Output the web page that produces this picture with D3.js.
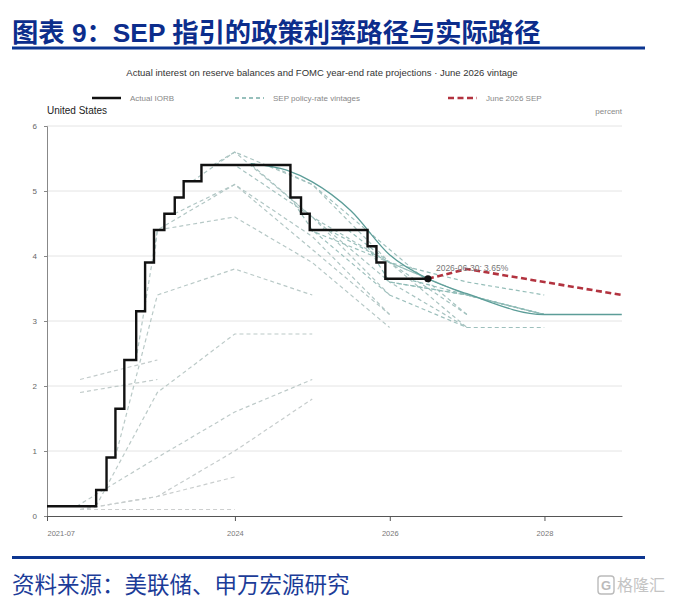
<!DOCTYPE html>
<html>
<head>
<meta charset="utf-8">
<script src="https://cdn.jsdelivr.net/npm/d3@7"></script>
<style>
    body { margin: 0; background: #fff; }
    svg { display: block; }
</style>
</head>
<body>
<svg id="chart" width="674" height="605"></svg>
<script>
// ---- data ----
const titleText = "图表 9：SEP 指引的政策利率路径与实际路径";
const subtitleText = "Actual interest on reserve balances and FOMC year-end rate projections · June 2026 vintage";
const sourceText = "资料来源：美联储、申万宏源研究";

const xStart = "2021-07-28";
const xEnd = "2029-01-01";
const xTicks = ["2021-07-28", "2024-01-01", "2026-01-01", "2028-01-01"];
const yTicks = [0, 1, 2, 3, 4, 5, 6];

// actual IORB: date of change, new level (step-after)
const iorbDates = [
    "2021-07-28", "2022-03-17", "2022-05-05", "2022-06-16", "2022-07-28",
    "2022-09-22", "2022-11-03", "2022-12-15", "2023-02-02", "2023-03-23",
    "2023-05-04", "2023-07-27", "2024-09-19", "2024-11-08", "2024-12-19",
    "2025-09-18", "2025-10-30", "2025-12-11", "2026-06-30",
];
const iorbValues = [
    0.15, 0.40, 0.90, 1.65, 2.40,
    3.15, 3.90, 4.40, 4.65, 4.90,
    5.15, 5.40, 4.90, 4.65, 4.40,
    4.15, 3.90, 3.65, 3.65,
];

// SEP vintages: [date, rate] pairs, oldest first
const vintages = [
    [["2021-12-31", 0.1], ["2022-12-31", 0.1], ["2023-12-31", 0.1]],
    [["2021-12-31", 0.1], ["2022-12-31", 0.3], ["2023-12-31", 0.6]],
    [["2021-12-31", 0.1], ["2022-12-31", 0.3], ["2023-12-31", 1.0], ["2024-12-31", 1.8]],
    [["2021-12-31", 2.1], ["2022-12-31", 2.4]],
    [["2021-12-31", 1.9], ["2022-12-31", 2.1]],
    [["2021-12-15", 0.15], ["2022-12-31", 0.9], ["2023-12-31", 1.6], ["2024-12-31", 2.1]],
    [["2022-03-16", 0.15], ["2022-12-31", 1.9], ["2023-12-31", 2.8], ["2024-12-31", 2.8]],
    [["2022-06-15", 0.9], ["2022-12-31", 3.4], ["2023-12-31", 3.8], ["2024-12-31", 3.4]],
    [["2022-09-21", 2.4], ["2022-12-31", 4.4], ["2023-12-31", 4.6], ["2024-12-31", 3.9], ["2025-12-31", 2.9]],
    [["2022-12-14", 3.9], ["2022-12-31", 4.4], ["2023-12-31", 5.1], ["2024-12-31", 4.1], ["2025-12-31", 3.1]],
    [["2023-03-22", 4.65], ["2023-12-31", 5.1], ["2024-12-31", 4.3], ["2025-12-31", 3.1]],
    [["2023-06-14", 5.15], ["2023-12-31", 5.6], ["2024-12-31", 4.6], ["2025-12-31", 3.4]],
    [["2023-09-20", 5.4], ["2023-12-31", 5.6], ["2024-12-31", 5.1], ["2025-12-31", 3.9], ["2026-12-31", 2.9]],
    [["2023-12-13", 5.4], ["2023-12-31", 5.4], ["2024-12-31", 4.6], ["2025-12-31", 3.6], ["2026-12-31", 2.9]],
    [["2024-03-20", 5.4], ["2024-12-31", 4.6], ["2025-12-31", 3.9], ["2026-12-31", 3.1]],
    [["2024-06-12", 5.4], ["2024-12-31", 5.1], ["2025-12-31", 4.1], ["2026-12-31", 3.1]],
    [["2024-09-18", 4.9], ["2024-12-31", 4.4], ["2025-12-31", 3.4], ["2026-12-31", 2.9], ["2027-12-31", 2.9]],
    [["2024-12-18", 4.4], ["2025-12-31", 3.9], ["2026-12-31", 3.4], ["2027-12-31", 3.1]],
    [["2025-03-19", 4.4], ["2025-12-31", 3.9], ["2026-12-31", 3.4], ["2027-12-31", 3.1]],
    [["2025-06-18", 4.4], ["2025-12-31", 3.9], ["2026-12-31", 3.6], ["2027-12-31", 3.4]],
    [["2025-09-17", 4.15], ["2025-12-31", 3.6], ["2026-12-31", 3.4], ["2027-12-31", 3.1]],
    [["2025-12-10", 3.65], ["2025-12-31", 3.6], ["2026-12-31", 3.4], ["2027-12-31", 3.1]],
    [["2026-03-18", 3.65], ["2026-12-31", 3.4], ["2027-12-31", 3.1]],
];

// the smooth solid teal path
const curveDates = ["2024-03-15", "2024-09-01", "2024-12-31", "2025-06-30", "2025-12-31", "2026-06-30", "2026-12-31", "2027-12-31", "2028-12-31"];
const curveValues = [5.42, 5.32, 5.14, 4.7, 4.02, 3.65, 3.42, 3.1, 3.1];

// June 2026 SEP
const sepDates = ["2026-06-30", "2026-12-31", "2027-12-31", "2028-12-31"];
const sepValues = [3.65, 3.8, 3.6, 3.4];

const lastLabel = "2026-06-30: 3.65%";

// ---- drawing ----
const parse = d3.utcParse("%Y-%m-%d");
const svg = d3.select("#chart");
const chartFont = "'Liberation Sans', Arial, sans-serif";

const plot = { left: 47, right: 622, top: 126, bottom: 516 };

const x = d3.scaleUtc()
    .domain([parse(xStart), parse(xEnd)])
    .range([plot.left, plot.right]);

const y = d3.scaleLinear()
    .domain([0, 6])
    .range([plot.bottom, plot.top]);

svg.append("rect").attr("width", 674).attr("height", 605).attr("fill", "#fff");

// header
svg.append("text")
    .attr("x", 12)
    .attr("y", 41.5)
    .attr("font-family", "'Liberation Sans', 'Noto Sans CJK SC', sans-serif")
    .attr("font-weight", "bold")
    .attr("font-size", 26.3)
    .attr("fill", "#0c2d8c")
    .text(titleText);

svg.append("rect")
    .attr("x", 12).attr("y", 46.5)
    .attr("width", 633).attr("height", 3)
    .attr("fill", "#0c3590");

svg.append("text")
    .attr("x", 322)
    .attr("y", 76)
    .attr("text-anchor", "middle")
    .attr("font-family", chartFont)
    .attr("font-size", 9.5)
    .attr("fill", "#333")
    .text(subtitleText);

// legend
const legendItems = [
    { label: "Actual IORB", x: 92, color: "#111", width: 2.5, dash: null },
    { label: "SEP policy-rate vintages", x: 235, color: "#76aca7", width: 1.3, dash: "4,3" },
    { label: "June 2026 SEP", x: 448, color: "#b2333f", width: 2.5, dash: "6,3.5" },
];

const legend = svg.append("g")
    .selectAll("g")
    .data(legendItems)
    .join("g")
    .attr("transform", (d) => `translate(${d.x}, 98)`);

legend.append("line")
    .attr("x1", 0).attr("x2", 29)
    .attr("stroke", (d) => d.color)
    .attr("stroke-width", (d) => d.width)
    .attr("stroke-dasharray", (d) => d.dash);

legend.append("text")
    .attr("x", 38)
    .attr("y", 3)
    .attr("font-family", chartFont)
    .attr("font-size", 8)
    .attr("fill", "#888")
    .text((d) => d.label);

svg.append("text")
    .attr("x", 47).attr("y", 114)
    .attr("font-family", chartFont)
    .attr("font-size", 10)
    .attr("fill", "#222")
    .text("United States");

svg.append("text")
    .attr("x", 622).attr("y", 114)
    .attr("text-anchor", "end")
    .attr("font-family", chartFont)
    .attr("font-size", 8)
    .attr("fill", "#888")
    .text("percent");

// grid
svg.append("g")
    .selectAll("line")
    .data(yTicks.filter((d) => d > 0))
    .join("line")
    .attr("x1", plot.left).attr("x2", plot.right)
    .attr("y1", (d) => y(d)).attr("y2", (d) => y(d))
    .attr("stroke", "#e4e4e4")
    .attr("stroke-width", 1);

// y axis
const yAxis = svg.append("g")
    .attr("transform", `translate(${plot.left}, 0)`)
    .call(d3.axisLeft(y).tickValues(yTicks).tickFormat(d3.format("d")).tickSize(3).tickPadding(7));
yAxis.select(".domain").attr("stroke", "#888");
yAxis.selectAll(".tick line").attr("stroke", "#888");
yAxis.selectAll("text")
    .attr("font-family", chartFont)
    .attr("font-size", 8)
    .attr("fill", "#666");

// x axis
const fmtStart = d3.utcFormat("%Y-%m");
const fmtYear = d3.utcFormat("%Y");
const xAxis = svg.append("g")
    .attr("transform", `translate(0, ${plot.bottom})`)
    .call(d3.axisBottom(x)
        .tickValues(xTicks.map(parse))
        .tickFormat((d, i) => (i === 0 ? fmtStart(d) : fmtYear(d)))
        .tickSize(5)
        .tickSizeOuter(0)
        .tickPadding(10));
xAxis.select(".domain").attr("stroke", "#555").attr("stroke-width", 1.2);
xAxis.selectAll(".tick line").attr("stroke", "#555");
xAxis.selectAll("text")
    .attr("font-family", chartFont)
    .attr("font-size", 7.5)
    .attr("fill", "#777");
xAxis.selectAll(".tick").filter((d, i) => i === 0)
    .select("text").attr("text-anchor", "start");

// vintages
const vintageLine = d3.line()
    .x((d) => x(parse(d[0])))
    .y((d) => y(d[1]));

const vintageColour = d3.scaleLinear()
    .domain([0, vintages.length - 1])
    .range(["#cdcfcf", "#8dbbb6"])
    .interpolate(d3.interpolateRgb);

svg.append("g")
    .attr("fill", "none")
    .attr("stroke-width", 1.2)
    .attr("stroke-dasharray", "4,3")
    .selectAll("path")
    .data(vintages)
    .join("path")
    .attr("stroke", (d, i) => vintageColour(i))
    .attr("d", vintageLine);

// solid teal curve
const curvePoints = curveDates.map((d, i) => ({ date: parse(d), value: curveValues[i] }));
svg.append("path")
    .datum(curvePoints)
    .attr("fill", "none")
    .attr("stroke", "#5c9d98")
    .attr("stroke-width", 1.3)
    .attr("d", d3.line()
        .curve(d3.curveMonotoneX)
        .x((d) => x(d.date))
        .y((d) => y(d.value)));

// June 2026 SEP
const sepPoints = sepDates.map((d, i) => ({ date: parse(d), value: sepValues[i] }));
svg.append("path")
    .datum(sepPoints)
    .attr("fill", "none")
    .attr("stroke", "#b2333f")
    .attr("stroke-width", 2.6)
    .attr("stroke-dasharray", "6,3.5")
    .attr("d", d3.line()
        .x((d) => x(d.date))
        .y((d) => y(d.value)));

// actual IORB
const iorb = iorbDates.map((d, i) => ({ date: parse(d), value: iorbValues[i] }));
svg.append("path")
    .datum(iorb)
    .attr("fill", "none")
    .attr("stroke", "#111")
    .attr("stroke-width", 2.4)
    .attr("stroke-linejoin", "miter")
    .attr("d", d3.line()
        .curve(d3.curveStepAfter)
        .x((d) => x(d.date))
        .y((d) => y(d.value)));

const last = iorb[iorb.length - 1];
svg.append("circle")
    .attr("cx", x(last.date))
    .attr("cy", y(last.value))
    .attr("r", 3.6)
    .attr("fill", "#111");

svg.append("text")
    .attr("x", x(last.date) + 8)
    .attr("y", y(last.value) - 8)
    .attr("font-family", chartFont)
    .attr("font-size", 8.5)
    .attr("fill", "#777")
    .text(lastLabel);

// footer
svg.append("rect")
    .attr("x", 12).attr("y", 556)
    .attr("width", 633).attr("height", 3)
    .attr("fill", "#0c3590");

svg.append("text")
    .attr("x", 12)
    .attr("y", 593)
    .attr("font-family", "'Noto Sans CJK SC', sans-serif")
    .attr("font-size", 22.5)
    .attr("fill", "#1c3c98")
    .text(sourceText);

// watermark
const wm = svg.append("g").attr("transform", "translate(598, 576)");
wm.append("rect")
    .attr("width", 16).attr("height", 18).attr("rx", 3)
    .attr("fill", "none").attr("stroke", "#bbb").attr("stroke-width", 1.4);
wm.append("text")
    .attr("x", 8).attr("y", 14)
    .attr("text-anchor", "middle")
    .attr("font-family", chartFont)
    .attr("font-weight", "bold")
    .attr("font-size", 13)
    .attr("fill", "#bbb")
    .text("G");
wm.append("text")
    .attr("x", 19).attr("y", 15)
    .attr("font-family", "'Noto Sans CJK SC', sans-serif")
    .attr("font-size", 16)
    .attr("fill", "#c4c4c4")
    .text("格隆汇");
</script>
</body>
</html>
